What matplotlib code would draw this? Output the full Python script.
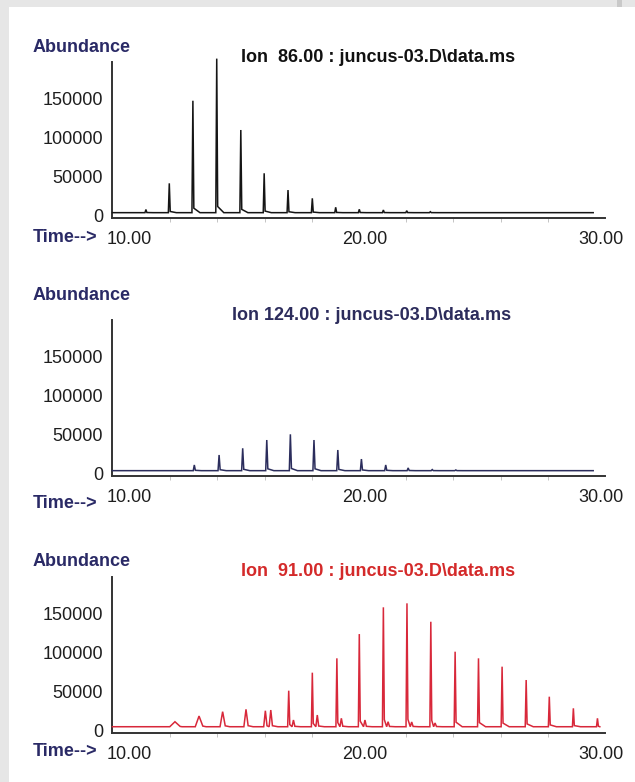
import numpy as np
import matplotlib
matplotlib.use("Agg")
import matplotlib.pyplot as plt
from matplotlib.patches import Rectangle
from matplotlib.transforms import ScaledTranslation
from matplotlib.ticker import FixedLocator

plt.rcParams['font.family'] = ['Liberation Sans', 'DejaVu Sans']

# ---------------- data ----------------
x_ticks = [10, 20, 30]
x_tick_labels = ["10.00", "20.00", "30.00"]
y_ticks = [0, 50000, 100000, 150000]
y_tick_labels = ["0", "50000", "100000", "150000"]

titles = ["Ion  86.00 : juncus-03.D\\data.ms",
          "Ion 124.00 : juncus-03.D\\data.ms",
          "Ion  91.00 : juncus-03.D\\data.ms"]

# Ion 86
times1 = [10.97, 11.96, 12.96, 13.97, 14.99, 15.98, 16.99, 18.02, 19.01, 20.01, 21.03, 22.02, 23.02]
heights1 = [7000, 40600, 146500, 200500, 109000, 53500, 32000, 21400, 9900, 7300, 6400, 5500, 4200]
baseline1 = 3000

# Ion 124
times2 = [13.02, 14.07, 15.07, 16.09, 17.09, 18.09, 19.10, 20.10, 21.13, 22.08, 23.10, 24.10]
heights2 = [10300, 23100, 31700, 42300, 49600, 42300, 29500, 17900, 10300, 6500, 4400, 3900]
baseline2 = 3000

# Ion 91
times3 = [12.20, 13.22, 14.22, 15.21, 16.03, 16.26, 17.02, 17.22, 18.02, 18.23, 19.06, 19.25,
          20.01, 20.25, 21.03, 21.23, 22.03, 22.23, 23.04, 23.22, 24.07, 25.06, 26.06, 27.08,
          28.06, 29.08, 30.10]
heights3 = [10600, 17900, 23500, 26500, 24700, 25600, 50400, 12800, 73500, 19200, 91900, 15000,
            123000, 12800, 157300, 10600, 162400, 10300, 138800, 9000, 100400, 91900, 81200, 64100,
            42700, 27800, 15000]
baseline3 = 4200

# ---------------- style ----------------
widths1 = [0.04] * len(times1)
widths2 = [0.045] * len(times2)
widths3 = [0.22, 0.16, 0.11, 0.09, 0.07, 0.07, 0.045, 0.06, 0.04, 0.06, 0.04, 0.06,
           0.04, 0.06, 0.04, 0.06, 0.04, 0.06, 0.04, 0.06, 0.04, 0.04, 0.04, 0.04,
           0.04, 0.04, 0.04]

W, H = 635, 782
DPI = 100


def build_trace(t0, t1, base, times, heights, widths, tail):
    xs, ys = [t0], [base]
    n = len(times)
    for i in range(n):
        t, h, w = times[i], heights[i], widths[i]
        nxt = times[i + 1] - widths[i + 1] if i + 1 < n else t1
        pts = [(t - w, base), (t, h), (t + w, base + tail * (h - base)), (t + 0.3, base)]
        for x, y in pts:
            if xs[-1] < x < nxt:
                xs.append(x)
                ys.append(y)
    xs.append(t1)
    ys.append(base)
    return np.array(xs), np.array(ys)


fig = plt.figure(figsize=(W / DPI, H / DPI), dpi=DPI)
fig.patch.set_facecolor('#e6e6e6')
fig.add_artist(Rectangle((9 / W, 0), 1, (H - 7) / H, transform=fig.transFigure,
                         facecolor='white', edgecolor='none', zorder=0))
fig.add_artist(Rectangle((617 / W, (H - 7) / H), 5 / W, 7 / H, transform=fig.transFigure,
                         facecolor='#c9c9c9', edgecolor='none', zorder=0))

navy = '#2a2a66'
panels = [
    dict(z=215, times=times1, heights=heights1, widths=widths1, base=baseline1, t1=29.92,
         color='#151515', tcolor='#111111', title_xy=(378, 57), abund_y=48, time_y=238, tail=0.04),
    dict(z=473, times=times2, heights=heights2, widths=widths2, base=baseline2, t1=29.92,
         color='#2b2d5c', tcolor='#2c2c5c', title_xy=(372, 315), abund_y=295, time_y=503, tail=0.06),
    dict(z=730, times=times3, heights=heights3, widths=widths3, base=baseline3, t1=30.2,
         color='#d8283a', tcolor='#d42a2a', title_xy=(378, 572), abund_y=561, time_y=752, tail=0.06),
]

left_px, right_px = 111.7, 605
for idx, p in enumerate(panels):
    bottom_px = p['z'] + 2.5
    ax = fig.add_axes([left_px / W, (H - bottom_px) / H, (right_px - left_px) / W, 156 / H])
    ax.patch.set_alpha(0)
    xs, ys = build_trace(9.55, p['t1'], p['base'], p['times'], p['heights'], p['widths'], p['tail'])
    ax.plot(xs, ys, color=p['color'], lw=1.1, clip_on=False, zorder=3, solid_joinstyle='miter')
    ax.set_xlim(9.52, 30.42)
    ax.set_ylim(-3200, 196800)
    for s in ['top', 'right']:
        ax.spines[s].set_visible(False)
    for s in ['left', 'bottom']:
        ax.spines[s].set_color('#333333')
        ax.spines[s].set_linewidth(1.4)
    ax.set_xticks(x_ticks)
    ax.set_xticklabels(x_tick_labels)
    ax.xaxis.set_minor_locator(FixedLocator(list(range(10, 31, 2))))
    ax.set_yticks(y_ticks)
    ax.set_yticklabels(y_tick_labels)
    ax.tick_params(axis='x', which='major', length=0, pad=9.5, labelsize=13, labelcolor='#1e1e1e')
    ax.tick_params(axis='x', which='minor', length=3, width=0.7, color='#c4c4c4', direction='out')
    ax.tick_params(axis='y', length=0, pad=6.3, labelsize=13, labelcolor='#1e1e1e')
    off = ScaledTranslation(6 / DPI, 0, fig.dpi_scale_trans)
    for lab in ax.get_xticklabels():
        lab.set_transform(lab.get_transform() + off)

    fig.text(33 / W, 1 - p['abund_y'] / H, 'Abundance', ha='left', va='center',
             fontsize=13, fontweight='bold', color=navy)
    fig.text(33 / W, 1 - p['time_y'] / H, 'Time-->', ha='left', va='center',
             fontsize=13, fontweight='bold', color=navy)
    tx, ty = p['title_xy']
    fig.text(tx / W, 1 - ty / H, titles[idx], ha='center', va='center',
             fontsize=13, fontweight='bold', color=p['tcolor'])

fig.savefig('out.png', dpi=DPI, facecolor=fig.get_facecolor())
